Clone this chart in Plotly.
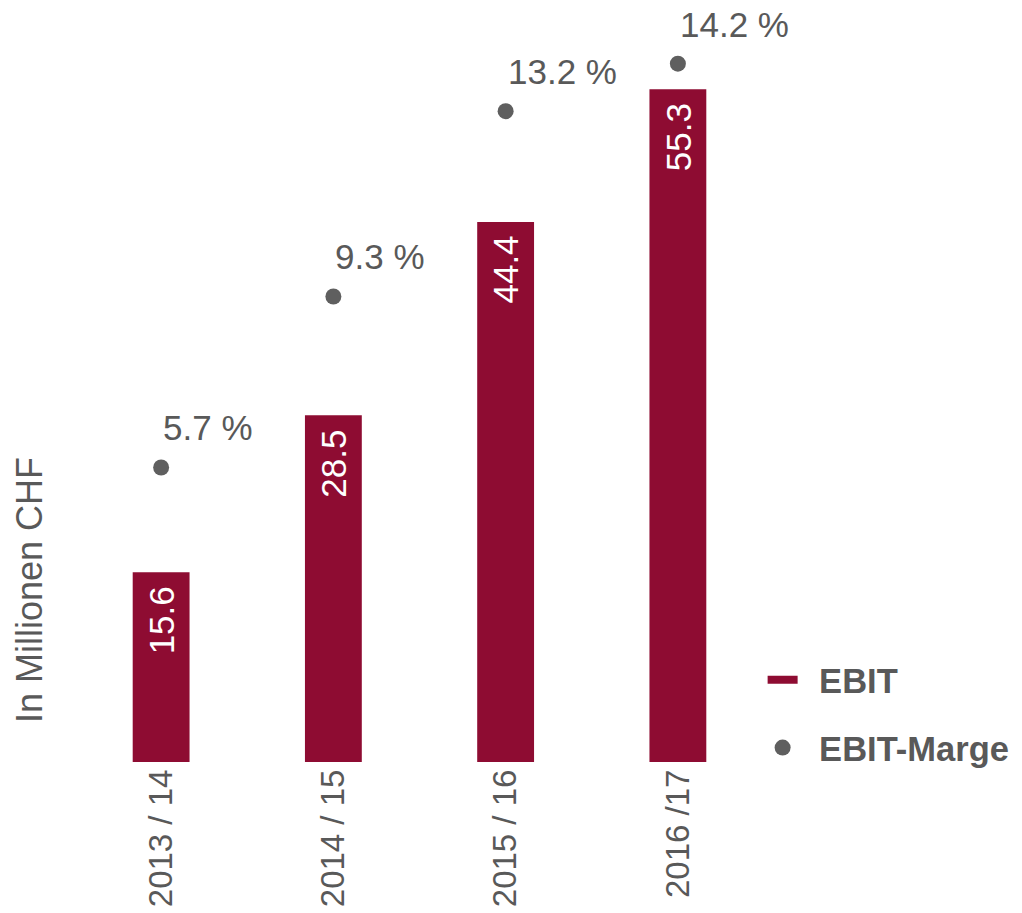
import plotly.graph_objects as go

categories = ["2013 / 14", "2014 / 15", "2015 / 16", "2016 /17"]
ebit = [15.6, 28.5, 44.4, 55.3]
ebit_labels = ["15.6", "28.5", "44.4", "55.3"]
marge = [5.7, 9.3, 13.2, 14.2]
marge_labels = ["5.7 %", "9.3 %", "13.2 %", "14.2 %"]

RED = "#8e0c32"
GREY = "#5f5f5f"
TXT = "#595959"
FONT = "Liberation Sans, Arial, sans-serif"

fig = go.Figure()
fig.add_trace(go.Bar(
    x=categories, y=ebit,
    marker=dict(color=RED, line=dict(width=0)), width=0.33,
    showlegend=False, name="EBIT", hoverinfo="x+y",
))
for c, v, lab in zip(categories, ebit, ebit_labels):
    fig.add_annotation(x=c, y=v, text=lab, showarrow=False, textangle=-90,
                       xanchor="center", yanchor="top", yshift=-12,
                       font=dict(family=FONT, size=35, color="white"))
# legend entry for EBIT (dash)
fig.add_trace(go.Scatter(
    x=[None], y=[None], mode="lines", name="\u00a0\u2009EBIT",
    line=dict(color=RED, width=8), legendgroup="a",
))
fig.add_trace(go.Scatter(
    x=categories, y=marge, mode="markers", name="\u00a0\u2009EBIT-Marge", yaxis="y2",
    marker=dict(color=GREY, size=16), legendgroup="b", cliponaxis=False,
))
for c, m, lab in zip(categories, marge, marge_labels):
    fig.add_annotation(x=c, y=m, yref="y2", text=lab, showarrow=False,
                       xanchor="left", yanchor="bottom", xshift=0, yshift=18,
                       font=dict(family=FONT, size=35, color=TXT))

fig.add_annotation(xref="paper", yref="paper", x=-0.065, y=0.232, text="In Millionen CHF",
                   textangle=-90, showarrow=False, xanchor="center", yanchor="middle",
                   font=dict(family=FONT, size=36, color=TXT))

fig.update_layout(
    width=1014, height=905,
    margin=dict(l=67, r=258, t=12, b=151, autoexpand=False),
    paper_bgcolor="white", plot_bgcolor="white",
    xaxis=dict(range=[-0.5, 3.5], tickangle=-90, showgrid=False, showline=False,
               zeroline=False, ticks="", automargin=False,
               tickfont=dict(family=FONT, size=33, color=TXT)),
    yaxis=dict(range=[0, 61.0], visible=False, showgrid=False, automargin=False),
    yaxis2=dict(range=[-0.5, 15.12], overlaying="y", visible=False, showgrid=False,
                automargin=False),
    legend=dict(x=0.998, xanchor="left", y=-0.02, yanchor="bottom", tracegroupgap=20,
                font=dict(family=FONT, size=34.5, color=TXT, weight="bold"),
                traceorder="grouped", bgcolor="rgba(0,0,0,0)"),
)
fig.write_html("out.html")
